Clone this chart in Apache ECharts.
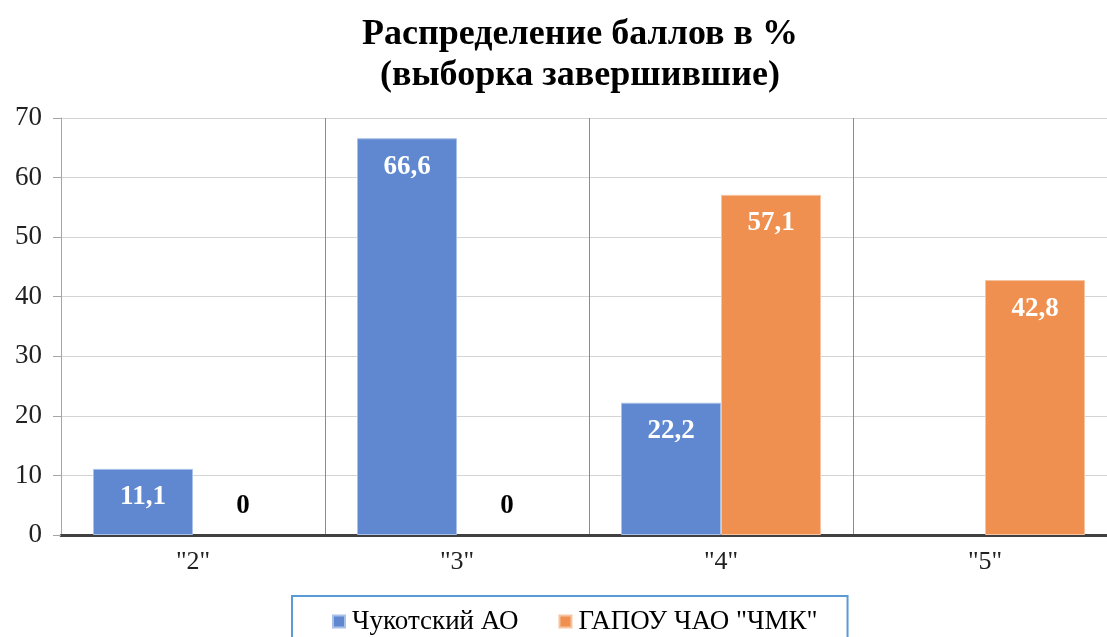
<!DOCTYPE html>
<html><head><meta charset="utf-8">
<script src="https://cdn.jsdelivr.net/npm/echarts@6/dist/echarts.min.js"></script>
<style>html,body{margin:0;padding:0;background:#fff;overflow:hidden}#c{width:1117px;height:637px}</style>
</head><body><div id="c"></div>
<script>
const categories = ['"2"', '"3"', '"4"', '"5"'];
const seriesNames = ['Чукотский АО', 'ГАПОУ ЧАО "ЧМК"'];
const chukotka = [11.1, 66.6, 22.2, null];
const gapou = [0, 0, 57.1, 42.8];
const yTicks = { min: 0, max: 70, interval: 10 };

const FONT = '"Liberation Serif", "Times New Roman", serif';
function mkData(arr) {
  return arr.map(v => {
    if (v === null) return null;
    if (v === 0) return { value: 0, itemStyle: { color: 'rgba(0,0,0,0)', borderWidth: 0 },
      label: { position: 'top', distance: 15, color: '#000' } };
    return v;
  });
}
const labelCommon = {
  show: true, position: 'insideTop', distance: 15, color: '#fff',
  fontFamily: FONT, fontSize: 27, fontWeight: 'bold',
  formatter: p => String(p.value).replace('.', ',')
};
const chart = echarts.init(document.getElementById('c'));
chart.setOption({
  animation: false,
  title: {
    text: 'Распределение баллов в %\n(выборка завершившие)',
    left: 575, top: 9, textAlign: 'center',
    textStyle: { fontFamily: FONT, fontSize: 36, fontWeight: 'bold', color: '#000', lineHeight: 41 }
  },
  legend: {
    data: seriesNames, left: 292, top: 596,
    padding: [12, 30, 40, 40],
    borderColor: '#5B9BD5', borderWidth: 2,
    itemWidth: 12, itemHeight: 12, itemGap: 40, icon: 'rect',
    textStyle: { fontFamily: FONT, fontSize: 27, color: '#000', padding: [0, 0, 0, 2] }
  },
  grid: { left: 61, right: 0, top: 118, bottom: 102 },
  xAxis: {
    type: 'category', data: categories,
    axisLine: { lineStyle: { color: '#404040', width: 3 } },
    axisTick: { show: false },
    axisLabel: { fontFamily: FONT, fontSize: 26, color: '#222', margin: 14 },
    splitLine: { show: true, lineStyle: { color: '#8c8c8c', width: 1 } }
  },
  yAxis: {
    type: 'value', min: yTicks.min, max: yTicks.max, interval: yTicks.interval,
    axisLine: { show: true, lineStyle: { color: '#a6a6a6', width: 1 } },
    axisTick: { show: true, inside: false, length: 8, lineStyle: { color: '#a6a6a6' } },
    axisLabel: { fontFamily: FONT, fontSize: 27, color: '#222', margin: 19 },
    splitLine: { lineStyle: { color: '#d4d4d4', width: 1 } }
  },
  series: [
    { name: seriesNames[0], type: 'bar', data: mkData(chukotka), barWidth: 100, barGap: '0%',
      itemStyle: { color: '#5F88D0', borderColor: '#A9C0E8', borderWidth: 1 }, label: labelCommon },
    { name: seriesNames[1], type: 'bar', data: mkData(gapou), barWidth: 100, barGap: '0%',
      itemStyle: { color: '#EF9050', borderColor: '#F6C4A2', borderWidth: 1 }, label: labelCommon }
  ]
});
</script></body></html>
